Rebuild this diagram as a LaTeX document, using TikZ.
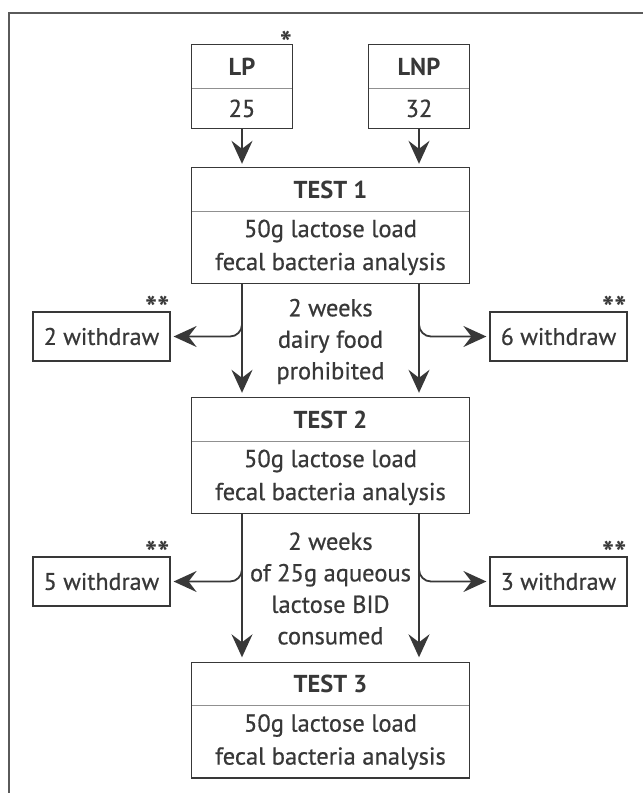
\documentclass[tikz,border=0pt]{standalone}
\usepackage{fontspec}
\setmainfont{PT Sans}
\newfontfamily\regfont{PT Sans}[FakeBold=0.6]
\usetikzlibrary{positioning,arrows.meta,calc}

\definecolor{inkgray}{HTML}{383838}
\definecolor{framegray}{HTML}{5A5A5A}
\definecolor{rulegray}{HTML}{909090}

\tikzset{
  hdr/.style={minimum width=277pt, minimum height=43pt, inner sep=0pt, text=inkgray,
    font=\bfseries\fontsize{24.5}{28}\selectfont},
  body/.style={minimum width=277pt, minimum height=72pt, inner sep=0pt, align=center, text=inkgray,
    font=\regfont\fontsize{24.5}{33}\selectfont},
  grphdr/.style={hdr, minimum width=100pt},
  grpnum/.style={body, minimum width=100pt, minimum height=40pt},
  wbox/.style={draw=inkgray, line width=1.2pt, minimum width=137pt, minimum height=49pt, inner sep=0pt,
    text=inkgray, font=\regfont\fontsize{24}{28}\selectfont},
  ast/.style={inner sep=0pt, text=inkgray, font=\bfseries\fontsize{32}{34}\selectfont},
  note/.style={align=center, inner sep=0pt, text=inkgray, font=\regfont\fontsize{24.5}{31.5}\selectfont},
  boxline/.style={draw=inkgray, line width=1.3pt},
  divider/.style={draw=rulegray, line width=0.8pt},
  flow/.style={draw=inkgray, line width=1.8pt, -{Stealth[length=23pt,width=21pt,inset=8pt]}},
}

\begin{document}
\begin{tikzpicture}[x=1pt,y=-1pt]
    \useasboundingbox (0,0) rectangle (643,793);
    \draw [framegray, line width=2pt] (9,793) -- (9,13) -- (643,13);

    % groups
    \node[grphdr] (lp) at (242,66.5) {LP};
    \node[grpnum, below=0pt of lp] (lpn) {25};
    \node[grphdr] (lnp) at (419,66.5) {LNP};
    \node[grpnum, below=0pt of lnp] (lnpn) {32};
    \node[ast, above left=-10pt and 0pt of lp.north east] (lpast) {*};

    % tests
    \node[hdr] (t1h) at (330.5,189.5) {TEST 1};
    \node[body, below=0pt of t1h] (t1b) {50g lactose load\\fecal bacteria analysis};
    \node[hdr] (t2h) at (330.5,419.5) {TEST 2};
    \node[body, below=0pt of t2h] (t2b) {50g lactose load\\fecal bacteria analysis};
    \node[hdr] (t3h) at (330.5,684) {TEST 3};
    \node[body, below=0pt of t3h] (t3b) {50g lactose load\\fecal bacteria analysis};

    \foreach \top/\bot in {lp/lpn, lnp/lnpn, t1h/t1b, t2h/t2b, t3h/t3b} {
        \draw [boxline] (\top.north west) rectangle (\bot.south east);
        \draw [divider] (\top.south west) -- (\top.south east);
    }

    % withdrawals
    \node[wbox] (w1) at (101.5,336.5) {2 withdraw};
    \node[wbox] (w2) at (558.5,336.5) {6 withdraw};
    \node[wbox] (w3) at (101.5,581.5) {5 withdraw};
    \node[wbox] (w4) at (558.5,581.5) {3 withdraw};
    \foreach \w in {w1,w2,w3,w4}
        \node[ast, above left=-8pt and 1pt of \w.north east] (\w ast) {**};

    \node[note] (gap1) at (330.5,341.5) {2 weeks\\dairy food\\prohibited};
    \node[note] (gap2) at (330.5,588.5) {2 weeks\\of 25g aqueous\\lactose BID\\consumed};

    % arrows
    \draw [flow, shorten >=4pt] (lpn.south) -- (t1h.north -| lpn.south);
    \draw [flow, shorten >=4pt] (lnpn.south) -- (t1h.north -| lnpn.south);
    \draw [flow, shorten >=5pt] (t1b.south -| lpn.south) -- (t2h.north -| lpn.south);
    \draw [flow, shorten >=5pt] (t1b.south -| lnpn.south) -- (t2h.north -| lnpn.south);
    \draw [flow, shorten >=5pt] (t2b.south -| lpn.south) -- (t3h.north -| lpn.south);
    \draw [flow, shorten >=5pt] (t2b.south -| lnpn.south) -- (t3h.north -| lnpn.south);

    \draw [flow, rounded corners=12pt, shorten >=3pt] (t1b.south -| lpn.south) |- (w1.east);
    \draw [flow, rounded corners=12pt, shorten >=3pt] (t1b.south -| lnpn.south) |- (w2.west);
    \draw [flow, rounded corners=12pt, shorten >=3pt] (t2b.south -| lpn.south) |- (w3.east);
    \draw [flow, rounded corners=12pt, shorten >=3pt] (t2b.south -| lnpn.south) |- (w4.west);
\end{tikzpicture}
\end{document}
